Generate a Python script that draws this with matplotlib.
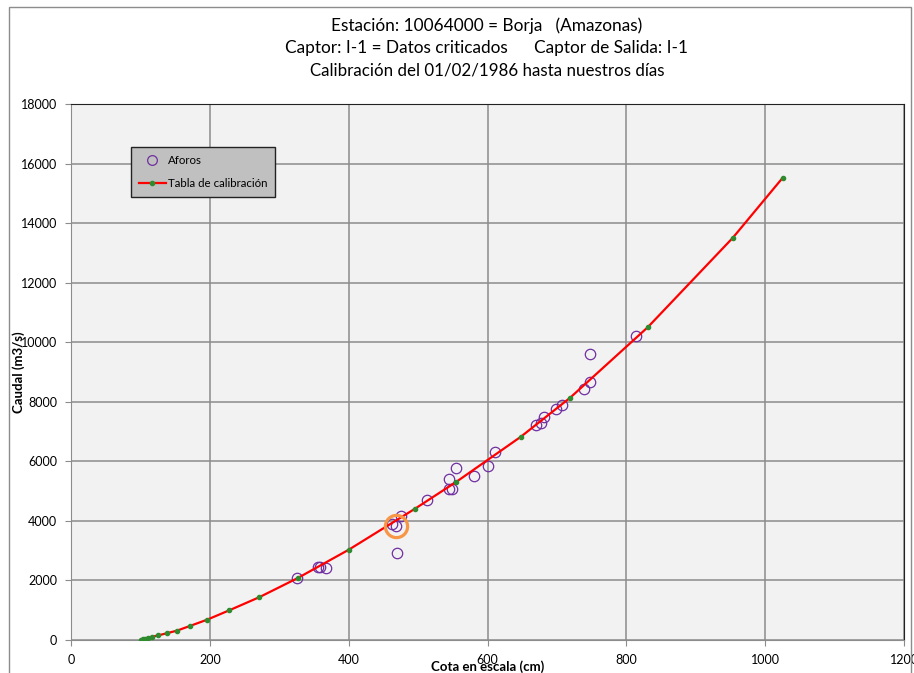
import matplotlib.pyplot as plt
from matplotlib.patches import Rectangle
from matplotlib.lines import Line2D

plt.rcParams['font.family'] = ['Lato', 'DejaVu Sans']

# calibration table (cota cm, caudal m3/s)
tabla_h = [100.6, 104, 107.3, 111.2, 117.4, 126, 137.6, 152.5, 171.2, 196.2, 228.3,
           271.5, 327, 400, 496, 555, 648, 719, 831, 953.5, 1025.5]
tabla_q = [11, 22, 45, 78, 112, 157, 224, 313, 470, 683, 1000,
           1440, 2085, 3030, 4415, 5310, 6825, 8135, 10506, 13510, 15530]

# gaugings
aforos_h = [325.5, 356, 358, 367, 462, 468, 470, 475.5, 513, 545, 544.5, 549, 555,
            581, 601, 611.5, 670, 676.8, 680.7, 699, 707.7, 739, 747.3, 747, 813.5]
aforos_q = [2080, 2445, 2455, 2410, 3880, 3830, 2918, 4160, 4700, 5396, 5060, 5060, 5787,
            5497, 5855, 6313, 7210, 7292, 7483, 7742, 7899, 8427, 8652, 9596, 10202]

resaltado = (468, 3830)

W, H = 914, 673
fig = plt.figure(figsize=(W / 100, H / 100), dpi=100)
fig.patches.append(Rectangle((9 / W, -0.05), 902 / W, 1 - 7 / H + 0.05, transform=fig.transFigure,
                             fill=False, edgecolor='#8c8c8c', lw=1))
ax = fig.add_axes([71 / W, 1 - 640 / H, 833 / W, 536 / H])
ax.set_facecolor('#f2f2f2')

ax.plot(aforos_h, aforos_q, 'o', ms=7.5, mfc='none', mec='#7030a0', mew=0.9, zorder=3)
ax.plot(tabla_h, tabla_q, '-', color='#ff0000', lw=1.6, marker='o', ms=3,
        mfc='#2e8b2e', mec='#2e8b2e', zorder=4)
ax.plot([resaltado[0]], [resaltado[1]], 'o', ms=16, mfc='none', mec='#f79646', mew=2.3, zorder=5)

ax.set_xlim(0, 1200)
ax.set_ylim(0, 18000)
ax.set_xticks(range(0, 1201, 200))
ax.set_yticks(range(0, 18001, 2000))
ax.grid(True, color='#8c8c8c', lw=1.1)
ax.set_axisbelow(True)
for s in ['left', 'bottom']:
    ax.spines[s].set_color('#8c8c8c')
for s in ['top', 'right']:
    ax.spines[s].set_color('#222222')
ax.tick_params(direction='out', length=4, color='#8c8c8c', labelsize=9, pad=6)

ax.set_xlabel('Cota en escala (cm)', fontsize=9.5, fontweight='bold', labelpad=-4)
ax.set_ylabel('Caudal (m3/s)', fontsize=9.5, fontweight='bold', labelpad=-3)

fig.text(487 / W, 1 - 26 / H, 'Estación: 10064000 = Borja   (Amazonas)', ha='center', va='center', fontsize=12.4)
fig.text(487 / W, 1 - 48 / H, 'Captor: I-1 = Datos criticados      Captor de Salida: I-1', ha='center', va='center', fontsize=12.4)
fig.text(487 / W, 1 - 70 / H, 'Calibración del 01/02/1986 hasta nuestros días', ha='center', va='center', fontsize=12.2)

handles = [Line2D([], [], ls='none', marker='o', ms=7, mfc='none', mec='#7030a0', mew=0.9),
           Line2D([], [], color='#ff0000', lw=1.6, marker='o', ms=3, mfc='#2e8b2e', mec='#2e8b2e')]
leg = ax.legend(handles, ['Aforos', 'Tabla de calibración'], loc='upper left',
                bbox_to_anchor=(131 / W, 1 - 147 / H), bbox_transform=fig.transFigure,
                fancybox=False, framealpha=1, facecolor='#c0c0c0', edgecolor='#222222',
                fontsize=8.3, handlelength=2.3, handletextpad=0.2, borderpad=0.7, labelspacing=1.0,
                borderaxespad=0)
leg.get_frame().set_linewidth(1)

fig.savefig('out.png', dpi=100)
